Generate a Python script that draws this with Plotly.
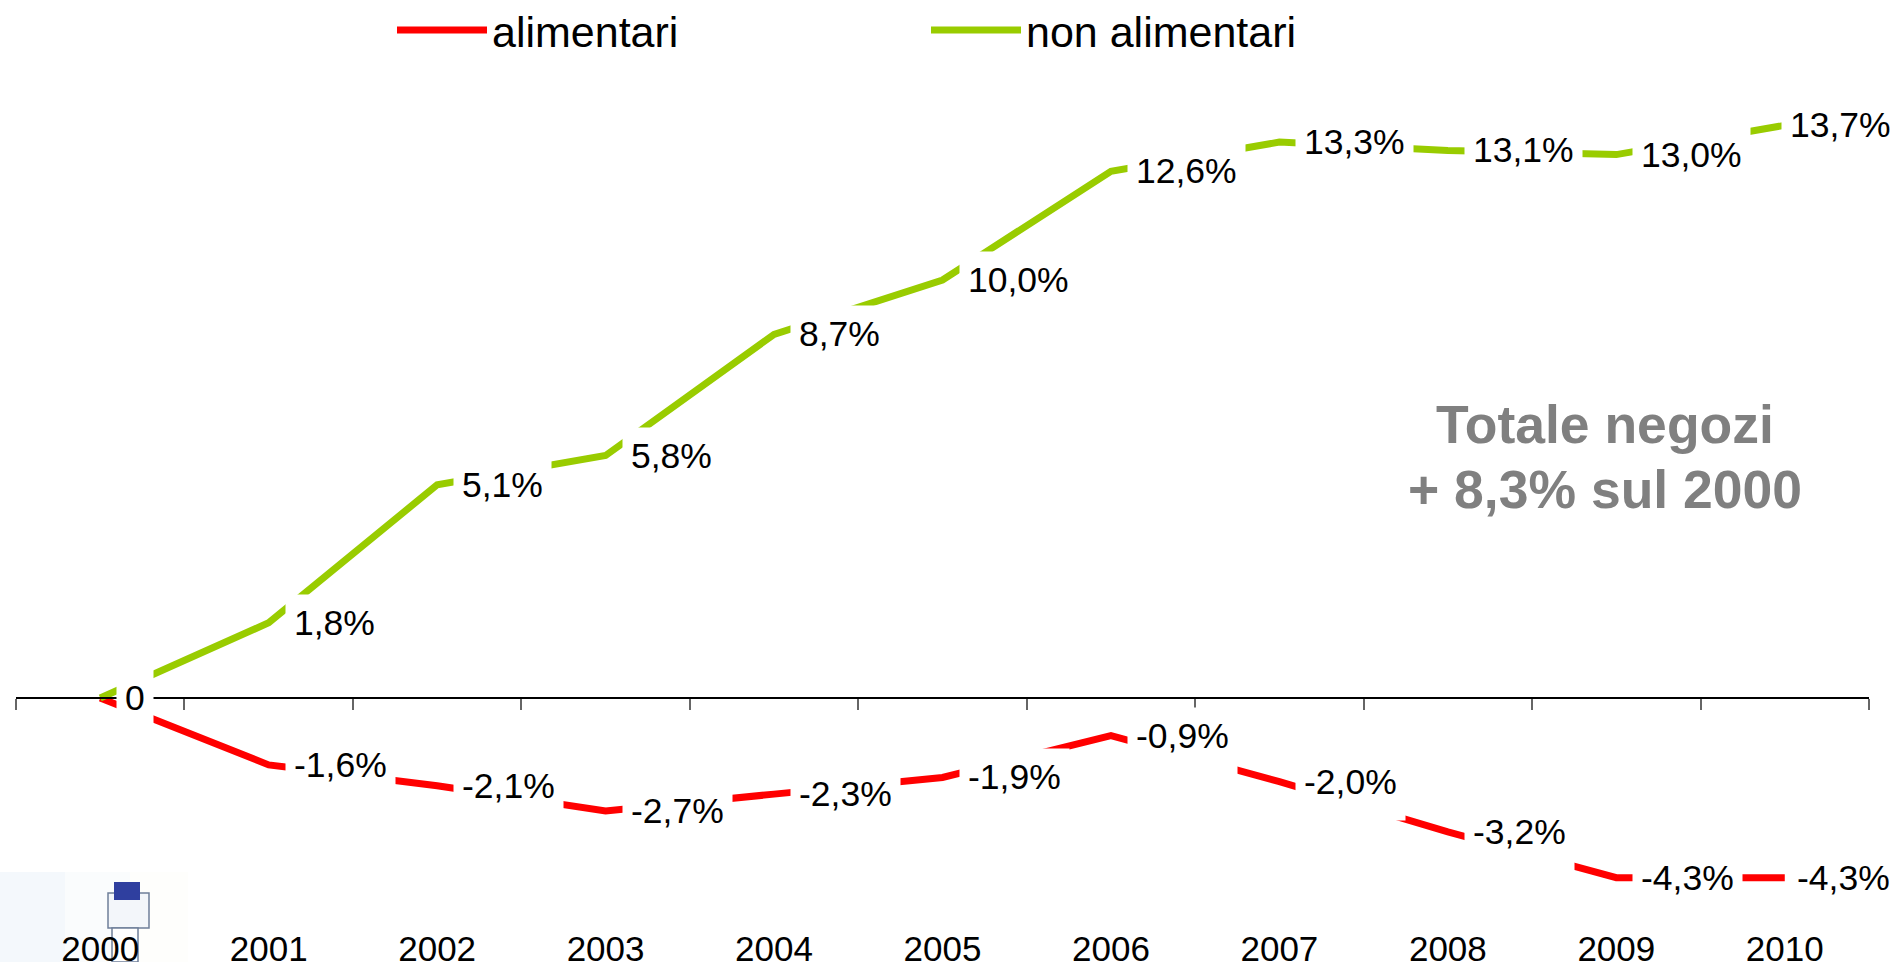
import plotly.graph_objects as go

W, H = 1895, 962
FONT = "Liberation Sans"

years = ["2000", "2001", "2002", "2003", "2004", "2005", "2006", "2007", "2008", "2009", "2010"]
alimentari = [0, -1.6, -2.1, -2.7, -2.3, -1.9, -0.9, -2.0, -3.2, -4.3, -4.3]
non_alimentari = [0, 1.8, 5.1, 5.8, 8.7, 10.0, 12.6, 13.3, 13.1, 13.0, 13.7]
note_lines = ["Totale negozi", "+ 8,3% sul 2000"]

RED = "#FF0000"
GREEN = "#99CC00"
LINE_W = 7
X_LEFT, X_RIGHT = 16, 1869
Y_ZERO = 698
PX_PER_UNIT = 41.8
idx = list(range(len(years)))


def fy(py):
    return 1 - py / H


def fmt(v):
    return "0" if v == 0 else f"{v:.1f}".replace(".", ",") + "%"


fig = go.Figure()
fig.add_trace(go.Scatter(x=idx, y=alimentari, name="alimentari", mode="lines",
                         line=dict(color=RED, width=LINE_W), hoverinfo="skip"))
fig.add_trace(go.Scatter(x=idx, y=non_alimentari, name="non alimentari", mode="lines",
                         line=dict(color=GREEN, width=LINE_W), hoverinfo="skip"))
# carries the zero-line axis with boundary ticks
fig.add_trace(go.Scatter(x=idx, y=[None] * len(idx), xaxis="x2", showlegend=False,
                         mode="lines", hoverinfo="skip"))

annotations = []
for series, last_shift in ((non_alimentari, -4), (alimentari, 3)):
    for i, v in enumerate(series):
        if i == 0 and series is alimentari:
            continue
        shift = 16
        if i == len(series) - 1:
            shift = last_shift
        annotations.append(dict(x=i, y=v, xref="x", yref="y", text=fmt(v), showarrow=False,
                                xanchor="left", yanchor="middle", xshift=shift, yshift=-5,
                                bgcolor="white", borderpad=8, height=50, valign="top",
                                font=dict(family=FONT, size=35.5, color="black")))

for line, py in zip(note_lines, (424, 489)):
    annotations.append(dict(x=1605 / W, y=fy(py), xref="paper", yref="paper",
                            text=line, showarrow=False, align="center",
                            xanchor="center", yanchor="middle",
                            font=dict(family=FONT, size=53.5, color="#808080", weight="bold")))


def rect(x0, y0, x1, y1, **kw):
    return dict(type="rect", xref="paper", yref="paper", x0=x0 / W, x1=x1 / W,
                y0=fy(y0), y1=fy(y1), layer="below", **kw)


none = dict(width=0)
thin = dict(color="#6f7f99", width=1.5)
shapes = [
    rect(0, 872, 65, 962, fillcolor="#F4F8FC", line=none),
    rect(65, 872, 130, 962, fillcolor="#FAFCFD", line=none),
    rect(130, 872, 188, 962, fillcolor="#FEFEFC", line=none),
    rect(108, 893, 149, 928, fillcolor="#F3F6FA", line=thin),
    rect(114, 882, 140, 900, fillcolor="#2F3F9F", line=none),
    rect(112, 928, 138, 962, fillcolor="#FFFFFF", line=thin),
]

pos_zero = fy(Y_ZERO)
tick_positions = [i - 0.5 for i in range(len(years) + 1)]

fig.update_layout(
    width=W, height=H,
    margin=dict(l=0, r=0, t=0, b=0, autoexpand=False),
    paper_bgcolor="white", plot_bgcolor="rgba(0,0,0,0)",
    hovermode=False,
    font=dict(family=FONT, color="black"),
    xaxis=dict(domain=[X_LEFT / W, X_RIGHT / W], range=[-0.5, len(years) - 0.5],
               anchor="free", position=fy(925), tickmode="array", tickvals=idx, ticktext=years,
               ticks="", showline=False, showgrid=False, zeroline=False,
               tickfont=dict(family=FONT, size=35, color="black")),
    xaxis2=dict(domain=[X_LEFT / W, X_RIGHT / W], range=[-0.5, len(years) - 0.5],
                overlaying="x", anchor="free", position=pos_zero, side="bottom",
                tickmode="array", tickvals=tick_positions, showticklabels=False,
                ticks="outside", ticklen=11, tickwidth=1.5, tickcolor="#666666",
                showline=True, linecolor="black", linewidth=1.5,
                showgrid=False, zeroline=False),
    yaxis=dict(domain=[0, 1], range=[-(H - Y_ZERO) / PX_PER_UNIT, Y_ZERO / PX_PER_UNIT],
               visible=False, showgrid=False, zeroline=False),
    legend=dict(orientation="h", x=392 / W, y=fy(30), xanchor="left", yanchor="middle",
                itemwidth=90, entrywidth=429, entrywidthmode="pixels",
                font=dict(family=FONT, size=43, color="black"), bgcolor="rgba(0,0,0,0)"),
    annotations=annotations,
    shapes=shapes,
)

fig.write_html("out.html", config=dict(displayModeBar=False),
               post_script="document.body.style.margin='0';document.body.style.overflow='hidden';")
